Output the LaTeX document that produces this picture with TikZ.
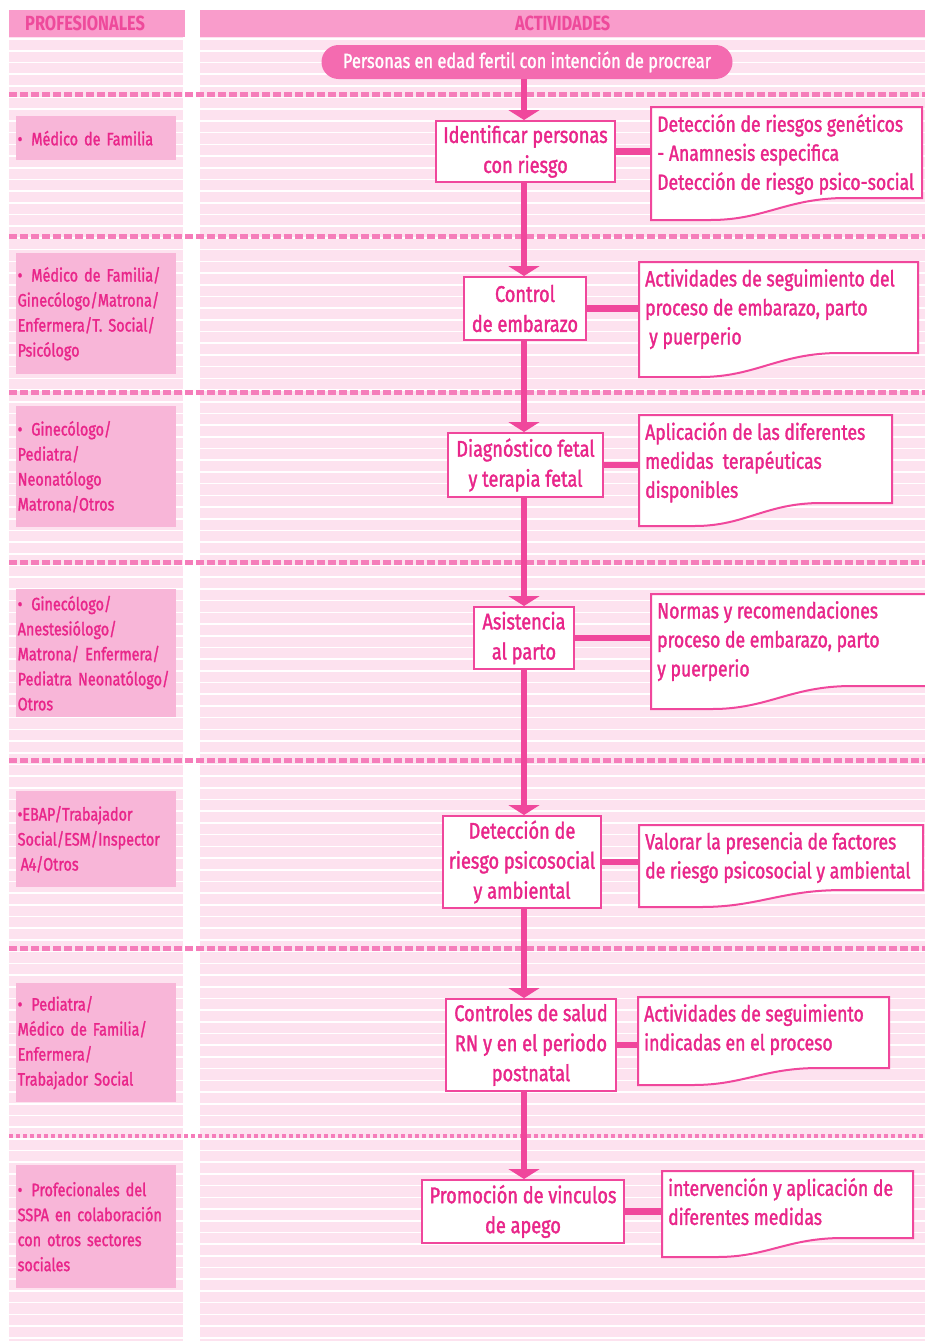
\documentclass[tikz,border=0pt]{standalone}
\usepackage{fontspec}
\setmainfont{Fira Sans}[FakeStretch=0.8, UprightFeatures={FakeBold=1.5}]
\usetikzlibrary{arrows.meta,calc}

\definecolor{stripebg}{RGB}{253,226,239}
\definecolor{hdrpink}{RGB}{249,156,203}
\definecolor{hdrtxt}{RGB}{238,74,155}
\definecolor{dashpink}{RGB}{245,125,186}
\definecolor{proffill}{RGB}{248,182,216}
\definecolor{txtpink}{RGB}{233,38,138}
\definecolor{linepink}{RGB}{240,71,156}
\definecolor{pillpink}{RGB}{244,107,176}

% document-shaped note: name, x0, top, x1, right bottom, left bottom, text
\newcommand\docnote[7]{%
  \draw[docline] (#2,#3) -- (#4,#3) -- (#4,#5)
    -- ({#2+0.72*(#4-#2)},#5)
    .. controls ({#2+0.5*(#4-#2)},#5) and ({#2+0.42*(#4-#2)},#6) .. ({#2+0.22*(#4-#2)},#6)
    -- (#2,#6) -- cycle;
  \node[doctext] (#1) at (#2,#3) {#7};
}

\begin{document}
\begin{tikzpicture}[x=1pt,y=-1pt,
  hdr/.style={fill=hdrpink, inner ysep=0pt, minimum height=27pt, anchor=north west,
    text=hdrtxt, font=\fontsize{20.5}{21}\selectfont\bfseries},
  prof/.style={fill=proffill, text=txtpink, anchor=north west, inner xsep=1.5pt, inner ysep=0pt,
    text width=157pt, align=left, font=\fontsize{18}{25}\selectfont},
  act/.style={draw=linepink, line width=2pt, fill=white, text=txtpink, align=center,
    inner sep=0pt, font=\fontsize{22.7}{30}\selectfont},
  pill/.style={fill=pillpink, text=white, rounded corners=17pt, minimum width=411pt,
    minimum height=34pt, inner sep=0pt, font=\fontsize{20.5}{22}\selectfont},
  flow/.style={draw=linepink, line width=6.5pt, -{Triangle[width=31pt,length=10pt]}},
  bar/.style={draw=linepink, line width=6.5pt},
  docline/.style={draw=linepink, line width=2pt, fill=white},
  doctext/.style={text=txtpink, anchor=north west, align=left, inner xsep=6pt, inner ysep=7pt,
    font=\fontsize{22}{29}\selectfont},
  sep/.style={draw=dashpink, line width=5pt, dash pattern=on 8pt off 3pt},
  stripe/.style={draw=white, line width=1.6pt}
]
\useasboundingbox (0,0) rectangle (925,1341);
\fill[white] (0,0) rectangle (925,1341);

% striped column backgrounds
\fill[stripebg] (9,37) rectangle (183,1341);
\fill[stripebg] (200,37) rectangle (925,1341);
\foreach \k in {0,...,111}{
  \draw[stripe] (9,{39+11.7*\k}) -- (183,{39+11.7*\k}) (200,{39+11.7*\k}) -- (925,{39+11.7*\k});
}

% column headers
\node[hdr, inner xsep=16pt, text width=144pt, align=left] (hp) at (9,10) {PROFESIONALES};
\node[hdr, minimum width=725pt, inner xsep=0pt] (ha) at (200,10) {ACTIVIDADES};

% separators between stages
\foreach \yy in {94,236,392,562,760,948}{
  \draw[sep] (9,\yy) -- (925,\yy);
}
\draw[sep, line width=4pt, dash pattern=on 4pt off 3pt] (9,1136) -- (925,1136);

% professionals
\node[prof, minimum height=44pt] (p1) at (16,116) {•\enspace Médico de Familia};
\node[prof, minimum height=121pt] (p2) at (16,253) {•\enspace Médico de Familia/\\Ginecólogo/Matrona/\\Enfermera/T. Social/\\Psicólogo};
\node[prof, minimum height=121pt] (p3) at (16,406) {•\enspace Ginecólogo/\\Pediatra/\\Neonatólogo\\Matrona/Otros};
\node[prof, minimum height=128pt] (p4) at (16,589) {•\enspace Ginecólogo/\\Anestesiólogo/\\Matrona/ Enfermera/\\Pediatra Neonatólogo/\\Otros};
\node[prof, minimum height=96pt] (p5) at (16,791) {•EBAP/Trabajador\\Social/ESM/Inspector\\\hspace{3pt}A4/Otros};
\node[prof, minimum height=119pt] (p6) at (16,983) {•\enspace Pediatra/\\Médico de Familia/\\Enfermera/\\Trabajador Social};
\node[prof, minimum height=123pt] (p7) at (16,1165) {•\enspace Profecionales del\\SSPA en colaboración\\con otros sectores\\sociales};

% activities
\coordinate (sp) at (524,0);
\node[pill] (start) at (527,62) {Personas en edad fertil con intención de procrear};
\node[act, minimum width=179pt, minimum height=61pt] (a1) at (525.5,151.5) {Identificar personas\\con riesgo};
\node[act, minimum width=122pt, minimum height=63pt] (a2) at (525,308.5) {Control\\de embarazo};
\node[act, minimum width=155pt, minimum height=64pt] (a3) at (525.5,465) {Diagnóstico fetal\\y terapia fetal};
\node[act, minimum width=100pt, minimum height=62pt] (a4) at (524,638) {Asistencia\\al parto};
\node[act, minimum width=158pt, minimum height=92pt] (a5) at (522,862) {Detección de\\riesgo psicosocial\\y ambiental};
\node[act, minimum width=170pt, minimum height=92pt] (a6) at (531,1045) {Controles de salud\\RN y en el periodo\\postnatal};
\node[act, minimum width=202pt, minimum height=63pt] (a7) at (523,1211.5) {Promoción de vinculos\\de apego};

% main flow
\draw[flow] (start.south -| sp) -- (a1.north -| sp);
\draw[flow] (a1.south -| sp) -- (a2.north -| sp);
\draw[flow] (a2.south -| sp) -- (a3.north -| sp);
\draw[flow] (a3.south -| sp) -- (a4.north -| sp);
\draw[flow] (a4.south -| sp) -- (a5.north -| sp);
\draw[flow] (a5.south -| sp) -- (a6.north -| sp);
\draw[flow] (a6.south -| sp) -- (a7.north -| sp);

% notes for each activity
\docnote{d1}{651}{107}{922}{198}{220}{Detección de riesgos genéticos\\- Anamnesis especifica\\Detección de riesgo psico-social}
\docnote{d2}{639}{262}{918}{353}{377}{Actividades de seguimiento del\\proceso de embarazo, parto\\\hspace{4pt}y puerperio}
\docnote{d3}{639}{415}{892}{503}{526}{Aplicación de las diferentes\\medidas\ \ terapéuticas\\disponibles}
\docnote{d4}{651}{594}{930}{686}{709}{Normas y recomendaciones\\proceso de embarazo, parto\\y puerperio}
\docnote{d5}{639}{825}{923}{890}{907}{Valorar la presencia de factores\\de riesgo psicosocial y ambiental}
\docnote{d6}{638}{997}{889}{1068}{1085}{Actividades de seguimiento\\indicadas en el proceso}
\docnote{d7}{662}{1171}{913}{1238}{1257}{intervención y aplicación de\\diferentes medidas}

\draw[bar] (a1.east) -- (a1.east -| d1.west);
\draw[bar] (a2.east) -- (a2.east -| d2.west);
\draw[bar] (a3.east) -- (a3.east -| d3.west);
\draw[bar] (a4.east) -- (a4.east -| d4.west);
\draw[bar] (a5.east) -- (a5.east -| d5.west);
\draw[bar] (a6.east) -- (a6.east -| d6.west);
\draw[bar] (a7.east) -- (a7.east -| d7.west);
\end{tikzpicture}
\end{document}
